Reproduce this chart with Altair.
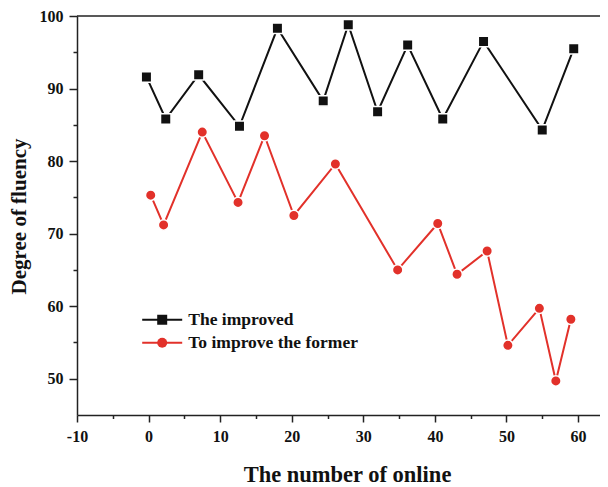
import altair as alt
import pandas as pd

# Data
imp_x = [-0.3, 2.4, 7.0, 12.7, 18.0, 24.4, 27.9, 32.0, 36.2, 41.1, 46.8, 55.0, 59.4]
imp_y = [91.6, 85.8, 91.9, 84.8, 98.3, 88.3, 98.8, 86.8, 96.0, 85.8, 96.5, 84.3, 95.5]
for_x = [0.3, 2.1, 7.5, 12.5, 16.2, 20.3, 26.1, 34.8, 40.4, 43.1, 47.3, 50.2, 54.6, 56.9, 59.0]
for_y = [75.3, 71.2, 84.0, 74.3, 83.5, 72.5, 79.6, 65.0, 71.4, 64.4, 67.6, 54.6, 59.7, 49.7, 58.2]
series_names = ["The improved", "To improve the former"]
series_colors = ["#111111", "#E2312A"]
series_shapes = ["square", "circle"]
x_ticks = list(range(-10, 61, 5))
y_ticks = list(range(50, 101, 5))

df = pd.concat([
    pd.DataFrame({"x": imp_x, "y": imp_y, "series": series_names[0], "idx": range(len(imp_x))}),
    pd.DataFrame({"x": for_x, "y": for_y, "series": series_names[1], "idx": range(len(for_x))}),
])
df["series_line"] = df["series"]

TOP = 8
W, H = 523, 399
FONT = "Liberation Serif"

xscale = alt.Scale(domain=[-10, 63.07], nice=False, zero=False)
yscale = alt.Scale(domain=[45, 100], nice=False, zero=False)

x_axis = alt.Axis(
    values=x_ticks,
    labelExpr="datum.value % 10 === 0 ? '' + datum.value : ''",
    tickSize={"condition": {"test": "datum.value % 10 === 0", "value": 7}, "value": 3.5},
    labelPadding=6,
    title="The number of online",
    titleFontSize=22.5,
    titleX=270,
    titleY=66,
    titleBaseline="alphabetic",
    titleAnchor="middle",
    labelFlush=False,
    grid=False,
)
y_axis = alt.Axis(
    values=y_ticks,
    labelExpr="datum.value % 10 === 0 ? '' + datum.value : ''",
    tickSize={"condition": {"test": "datum.value % 10 === 0", "value": 8}, "value": 4},
    labelPadding=6,
    title="Degree of fluency",
    titleFontSize=21,
    titleX=-52,
    titleY=216 - 8 - TOP,
    titleBaseline="alphabetic",
    titleAngle=270,
    titleAlign="center",
    labelFlush=False,
    grid=False,
)

leg_common = dict(
    orient="none",
    title=None,
    labelFont=FONT,
    labelFontWeight="bold",
    labelFontSize=17.5,
    labelColor="#111111",
    labelLimit=0,
    rowPadding=4,
    padding=0,
    symbolSize=100,
)
LEG_Y = 298 - (TOP - 5)
LEG_X = 76.45
line_legend = alt.Legend(
    legendX=LEG_X, legendY=LEG_Y,
    symbolType="M-4,0H4", symbolStrokeWidth=2, symbolFillColor="transparent",
    labelOffset=17.35, labelOpacity=0,
    **leg_common,
)
point_legend = alt.Legend(
    legendX=LEG_X, legendY=LEG_Y,
    symbolStrokeWidth=1.5, symbolStrokeColor="white",
    labelOffset=17.35,
    **leg_common,
)

base = alt.Chart(df).encode(
    x=alt.X("x:Q", scale=xscale, axis=x_axis),
    y=alt.Y("y:Q", scale=yscale, axis=y_axis),
)

lines = base.mark_line(strokeWidth=2).encode(
    stroke=alt.Stroke("series_line:N", scale=alt.Scale(range=series_colors), legend=line_legend),
    order="idx:Q",
)
points = base.mark_point(filled=True, size=110, stroke="white", strokeWidth=1.5, opacity=1).encode(
    fill=alt.Fill("series:N", scale=alt.Scale(domain=series_names, range=series_colors), legend=point_legend),
    shape=alt.Shape("series:N", scale=alt.Scale(domain=series_names, range=series_shapes), legend=point_legend),
)

frame_top = alt.Chart(alt.Data(values=[{"a": 1}])).mark_rule(color="#222222", strokeWidth=1.5).encode(
    x=alt.value(0), x2=alt.value(W), y=alt.value(0)
)

chart = alt.layer(lines, points, frame_top).properties(
    width=W, height=H,
    background="white",
    autosize=alt.AutoSizeParams(type="none"),
    padding={"left": 69, "top": TOP, "right": 0, "bottom": 72},
).configure_view(stroke=None).configure_axis(
    labelFont=FONT, labelFontWeight="bold", labelFontSize=16, labelColor="#111111",
    titleFont=FONT, titleFontWeight="bold", titleColor="#111111",
    domainColor="#222222", domainWidth=1.5, tickColor="#222222", tickWidth=1.5,
    grid=False,
)

chart.save("out.html", embed_options={"renderer": "svg", "actions": False})
